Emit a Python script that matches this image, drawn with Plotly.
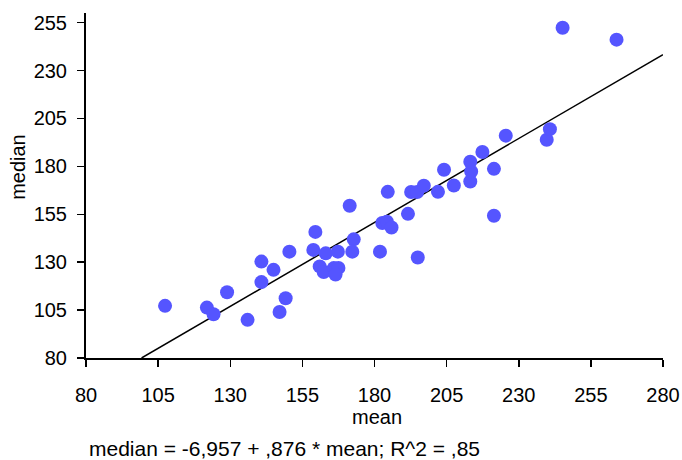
import plotly.graph_objects as go

# Data
mean_vals = [107.4, 121.9, 124.2, 128.9, 136.0, 140.8, 145.0, 140.8, 150.5, 147.1,
             149.2, 159.5, 158.8, 163.1, 161.0, 162.4, 167.3, 165.9, 167.5, 166.5,
             171.4, 172.8, 172.3, 181.9, 182.7, 184.3, 185.9, 184.6, 192.7, 194.8,
             197.1, 202.0, 207.5, 213.2, 213.5, 213.2, 217.4, 204.1, 191.6, 195.0,
             221.4, 221.4, 225.5, 239.7, 240.8, 245.2, 263.9]
median_vals = [107.2, 106.3, 102.8, 114.3, 99.9, 130.3, 126.0, 119.6, 135.5, 104.0,
               111.2, 145.8, 136.4, 134.6, 127.8, 124.9, 135.5, 126.9, 127.0, 123.6,
               159.4, 141.9, 135.5, 135.5, 150.4, 151.1, 148.1, 166.7, 166.6, 166.6,
               169.9, 166.7, 170.0, 172.1, 177.3, 182.4, 187.5, 178.2, 155.2, 132.4,
               154.2, 178.7, 196.0, 193.9, 199.4, 252.3, 246.1]

# Regression coefficients (from the caption)
intercept = -6.957
slope = 0.876
r_squared = 0.85

x_ticks = [80, 105, 130, 155, 180, 205, 230, 255, 280]
y_ticks = [80, 105, 130, 155, 180, 205, 230, 255]

x_min, x_max = 80, 280
y_min, y_max = 80, 260

# regression line clipped to the plot area
x_start = (y_min - intercept) / slope
line_x = [x_start, x_max]
line_y = [intercept + slope * v for v in line_x]

font_family = "Liberation Sans, Arial, sans-serif"

fig = go.Figure()
fig.add_trace(go.Scatter(
    x=line_x, y=line_y, mode="lines",
    line=dict(color="black", width=1.5),
    hoverinfo="skip", showlegend=False,
))
fig.add_trace(go.Scatter(
    x=mean_vals, y=median_vals, mode="markers",
    marker=dict(color="#5555ff", size=14, line=dict(width=0)),
    showlegend=False,
))

axis_common = dict(
    showline=True, linecolor="black", linewidth=2,
    ticks="outside", ticklen=7, tickwidth=1.5, tickcolor="black",
    showgrid=False, zeroline=False, automargin=False,
    tickfont=dict(family=font_family, size=20, color="black"),
)

fig.update_xaxes(range=[x_min, x_max], tickvals=x_ticks,
                 ticklabelstandoff=11, **axis_common)
fig.update_yaxes(range=[y_min, y_max], tickvals=y_ticks,
                 ticklabelstandoff=6, **axis_common)

fig.add_annotation(text="mean", xref="paper", yref="paper", x=0.5, y=0,
                   xshift=2, yshift=-59, showarrow=False,
                   xanchor="center", yanchor="middle",
                   font=dict(family=font_family, size=20, color="black"))
fig.add_annotation(text="median", xref="paper", yref="paper", x=0, y=0.554,
                   xshift=-68, showarrow=False, textangle=-90,
                   xanchor="center", yanchor="middle",
                   font=dict(family=font_family, size=20, color="black"))
eq_text = "median = -6,957 + ,876 * mean; R^2 = ,85"
fig.add_annotation(text=eq_text, xref="paper", yref="paper", x=0, y=0,
                   xshift=1, yshift=-90, showarrow=False,
                   xanchor="left", yanchor="middle",
                   font=dict(family=font_family, size=21, color="black"))

fig.update_layout(
    width=682, height=460,
    margin=dict(l=86, r=19, t=13, b=102),
    paper_bgcolor="white", plot_bgcolor="white",
)

# remove the default 8px page margin so the figure fills the window exactly
fig.write_html("out.html",
               config={"displayModeBar": False, "staticPlot": True},
               post_script="document.body.style.margin='0';"
                           "document.body.style.overflow='hidden';")
